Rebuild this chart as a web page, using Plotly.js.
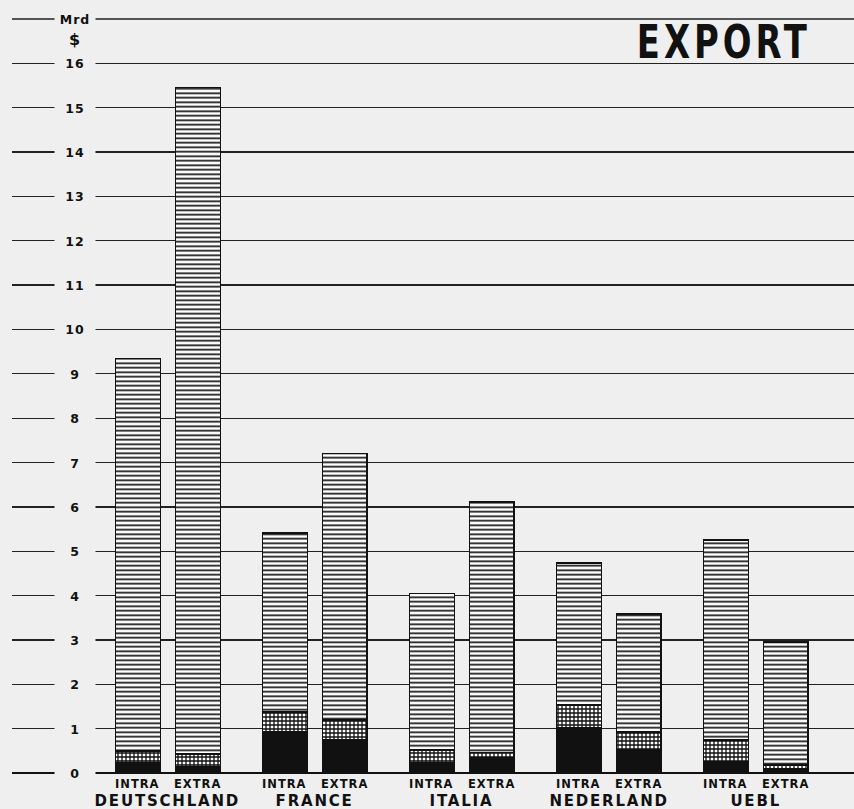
<!DOCTYPE html>
<html>
<head>
<meta charset="utf-8">
<script src="https://cdn.plot.ly/plotly-3.0.1.min.js"></script>
<style>
html,body{margin:0;padding:0;background:#efefef;}
#chart{width:854px;height:809px;}
.annotation-text{letter-spacing:1px;}
.annotation[data-index="19"] .annotation-text{letter-spacing:5px;transform-box:fill-box;transform-origin:center;transform:scaleX(0.8);}
.annotation[data-index="30"] .annotation-text,
.annotation[data-index="31"] .annotation-text,
.annotation[data-index="32"] .annotation-text,
.annotation[data-index="33"] .annotation-text,
.annotation[data-index="34"] .annotation-text{letter-spacing:1.8px;}
</style>
</head>
<body>
<div id="chart"></div>
<script>
// ---- data (Mrd $) ----
const countries = ["DEUTSCHLAND", "FRANCE", "ITALIA", "NEDERLAND", "UEBL"];
const flows = ["INTRA", "EXTRA"];
// order: DE intra, DE extra, FR intra, FR extra, IT intra, IT extra, NL intra, NL extra, UEBL intra, UEBL extra
const blackPart   = [0.23, 0.14, 0.93, 0.74, 0.23, 0.34, 1.01, 0.52, 0.25, 0.09];
const dottedPart  = [0.27, 0.29, 0.45, 0.45, 0.29, 0.12, 0.52, 0.41, 0.49, 0.09];
const stripedPart = [8.85, 15.03, 4.03, 6.01, 3.53, 5.65, 3.21, 2.65, 4.51, 2.77];
const yTicks = [0,1,2,3,4,5,6,7,8,9,10,11,12,13,14,15,16];

// ---- layout helpers ----
const OFF = 0.204, BW = 0.306;
const xs = [], barLabels = [];
countries.forEach((c, gi) => {
  flows.forEach((f, j) => { xs.push(gi + (j === 0 ? -OFF : OFF)); barLabels.push(f); });
});

const line = {color: '#111', width: 1.6};
const traces = [
  {type:'bar', x: xs, y: blackPart, width: BW,
   marker:{color:'#111', line: line}, hoverinfo:'skip'},
  {type:'bar', x: xs, y: dottedPart, width: BW,
   marker:{color:'#fff', line: line,
     pattern:{shape:'+', fgcolor:'#111', bgcolor:'#fff', size:4, solidity:0.55}}, hoverinfo:'skip'},
  {type:'bar', x: xs, y: stripedPart, width: BW,
   marker:{color:'#fff', line: line,
     pattern:{shape:'-', fgcolor:'#111', bgcolor:'#fff', size:4.5, solidity:0.38}}, hoverinfo:'skip'}
];

const BG = '#efefef';
const LX = (75 - 12) / 842;
const annotations = [];
yTicks.forEach(v => annotations.push({
  xref:'paper', yref:'y', x: LX, y: v, text: String(v), showarrow:false,
  font:{family:'DejaVu Sans', size:12.5, color:'#111', weight:'bold'},
  bgcolor: BG, width: 38, height: 14, xanchor:'center', yanchor:'middle'
}));
annotations.push({xref:'paper', yref:'y', x: LX, y: 17, text:'Mrd', showarrow:false,
  font:{family:'DejaVu Sans', size:12.5, color:'#111', weight:'bold'},
  bgcolor: BG, width: 38, height: 14, xanchor:'center', yanchor:'middle'});
annotations.push({xref:'paper', yref:'y', x: LX, y: 16.53, text:'$', showarrow:false,
  font:{family:'DejaVu Sans', size:16, color:'#111', weight:'bold'},
  xanchor:'center', yanchor:'middle'});
annotations.push({xref:'paper', yref:'y', x: (724 - 12) / 842, y: 16.5, text:'EXPORT', showarrow:false,
  font:{family:'DejaVu Sans Condensed', size:47, color:'#111', weight:'bold'},
  xanchor:'center', yanchor:'middle'});
xs.forEach((x, i) => annotations.push({xref:'x', yref:'paper', x: x, y: 0, yshift: -2,
  text: barLabels[i], showarrow:false, xanchor:'center', yanchor:'top',
  font:{family:'DejaVu Sans', size:11.5, color:'#111', weight:'bold'}}));
countries.forEach((c, gi) => annotations.push({xref:'x', yref:'paper', x: gi, y: 0, yshift: -17,
  text: c, showarrow:false, xanchor:'center', yanchor:'top',
  font:{family:'DejaVu Sans', size:15, color:'#111', weight:'bold'}}));

const layout = {
  width: 854, height: 809,
  margin: {l: 12, r: 0, t: 19, b: 36},
  paper_bgcolor: BG, plot_bgcolor: BG,
  barmode: 'stack', bargap: 0,
  showlegend: false,
  xaxis: {range: [-1.06, 4.668], showgrid:false, zeroline:false, showticklabels:false, ticks:'', fixedrange:true},
  yaxis: {range: [0, 17], tickvals: [0,1,2,3,4,5,6,7,8,9,10,11,12,13,14,15,16,17],
          showticklabels:false, ticks:'', gridcolor:'#222', gridwidth:1.3,
          zeroline:true, zerolinecolor:'#111', zerolinewidth:1.6, fixedrange:true},
  shapes: [{type:'line', layer:'above', xref:'paper', yref:'paper', x0:0, x1:1, y0:1, y1:1,
            line:{color:'#222', width:1.3}}],
  annotations: annotations
};
Plotly.newPlot('chart', traces, layout, {displayModeBar:false, staticPlot:true});
</script>
</body>
</html>
